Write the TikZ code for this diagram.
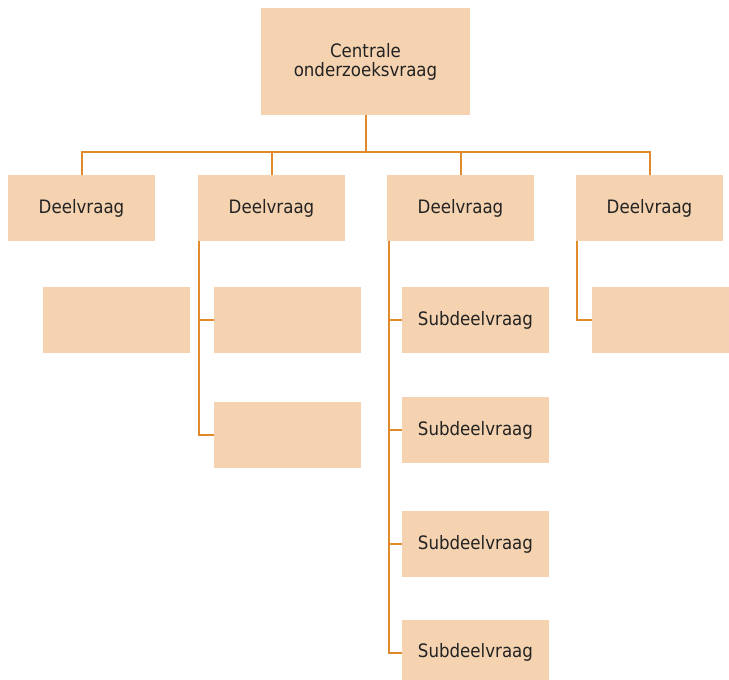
\documentclass[tikz,border=0pt]{standalone}
\usepackage{fontspec}
\setmainfont{DejaVu Sans Condensed}
\usepackage{tikz}
\usetikzlibrary{positioning}
\definecolor{BoxFill}{RGB}{245,210,176}
\definecolor{LinkOrange}{RGB}{224,138,44}
\definecolor{TextGray}{RGB}{35,35,35}

\begin{document}
\begin{tikzpicture}[x=1pt, y=-1pt,
    box/.style={fill=BoxFill, inner sep=0pt, text=TextGray,
        font=\fontsize{18.5}{19}\selectfont, align=center},
    qbox/.style={box, minimum width=147pt, minimum height=66pt},
    link/.style={draw=LinkOrange, line width=2pt}]
    \clip (0,0) rectangle (729,680);
    \useasboundingbox (0,0) rectangle (729,680);

    % Central question
    \node [box, minimum width=209pt, minimum height=107pt] (cv) at (365.5,61.5) {Centrale\\onderzoeksvraag};
    \coordinate (bus) at (365.5,152);

    % Sub questions
    \node [qbox] (d1) at (81.5,208) {Deelvraag};
    \node [qbox] (d2) at (271.5,208) {Deelvraag};
    \node [qbox] (d3) at (460.5,208) {Deelvraag};
    \node [qbox] (d4) at (649.5,208) {Deelvraag};

    % Sub-sub questions
    \node [qbox] (s11) at (116.5,320) {};
    \node [qbox] (s21) at (287.5,320) {};
    \node [qbox] (s22) at (287.5,435) {};
    \node [qbox] (s31) at (475.5,320) {Subdeelvraag};
    \node [qbox] (s32) at (475.5,430) {Subdeelvraag};
    \node [qbox] (s33) at (475.5,544) {Subdeelvraag};
    \node [qbox] (s34) at (475.5,652.5) {Subdeelvraag};
    \node [qbox] (s41) at (665.5,320) {};

    % Connectors
    \draw [link] (cv.south) -- (bus);
    \draw [link] (d1.north) |- (bus) -| (d4.north);
    \draw [link] (d2.north) -- (d2.north |- bus);
    \draw [link] (d3.north) -- (d3.north |- bus);

    \draw [link] ([xshift=1.5pt]d2.south west) coordinate (t2) |- (s22.west);
    \draw [link] (s21.west) -- (s21.west -| t2);
    \draw [link] ([xshift=2pt]d3.south west) coordinate (t3) |- (s34.west);
    \draw [link] (s31.west) -- (s31.west -| t3);
    \draw [link] (s32.west) -- (s32.west -| t3);
    \draw [link] (s33.west) -- (s33.west -| t3);
    \draw [link] ([xshift=1.5pt]d4.south west) |- (s41.west);
\end{tikzpicture}
\end{document}
